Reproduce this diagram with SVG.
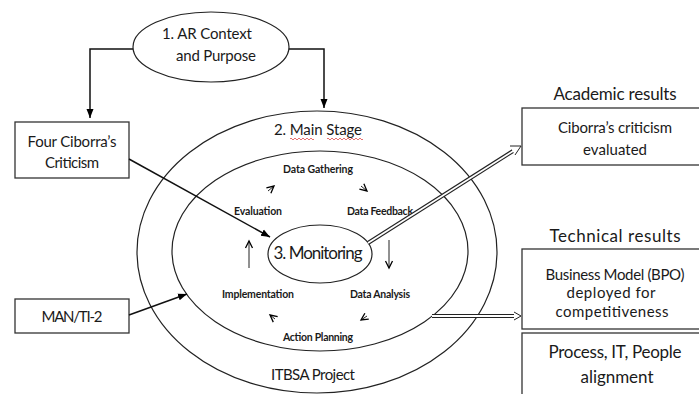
<svg xmlns="http://www.w3.org/2000/svg" width="699" height="394" viewBox="0 0 699 394">
<defs>
<marker id="ah" markerWidth="10" markerHeight="10" refX="8" refY="5" orient="auto" markerUnits="userSpaceOnUse">
<path d="M1,1.5 L8,5 L1,8.5" fill="none" stroke="#000" stroke-width="1.3"/>
</marker>
<marker id="af" markerWidth="10" markerHeight="10" refX="9" refY="5" orient="auto" markerUnits="userSpaceOnUse">
<path d="M0,1.5 L9,5 L0,8.5 Z" fill="#000"/>
</marker>
</defs>
<style>
text{font-family:Lato,"Liberation Sans",sans-serif;fill:#1a1a1a;text-anchor:middle}
.t{font-size:15px}
.h{font-size:17px}
.b{font-size:10.5px;font-weight:bold}
.s{fill:none;stroke:#222;stroke-width:1.2}
.box{fill:#fff;stroke:#333;stroke-width:1.3}
.c{fill:none;stroke:#111;stroke-width:1.5}
.sa{fill:none;stroke:#222;stroke-width:1}
</style>
<rect width="699" height="394" fill="#fff"/>
<g id="itbsa">
<ellipse cx="317" cy="252" rx="180" ry="141" class="s"/>
<text x="313" y="380" class="t" textLength="84">ITBSA Project</text>
</g>
<g id="main-stage">
<ellipse cx="320" cy="251" rx="148" ry="100" class="s"/>
<text x="318" y="135" class="t" textLength="88">2. Main Stage</text>
<path d="M290,139 q1,-2 2,0 q1,2 2,0 q1,-2 2,0 q1,2 2,0 q1,-2 2,0 q1,2 2,0 q1,-2 2,0 q1,2 2,0 q1,-2 2,0 q1,2 2,0 q1,-2 2,0 q1,2 2,0 M327,139 q1,-2 2,0 q1,2 2,0 q1,-2 2,0 q1,2 2,0 q1,-2 2,0 q1,2 2,0 q1,-2 2,0 q1,2 2,0 q1,-2 2,0 q1,2 2,0 q1,-2 2,0 q1,2 2,0 q1,-2 2,0 q1,2 2,0 q1,-2 2,0 q1,2 2,0 q1,-2 2,0 q1,2 2,0" fill="none" stroke="#d33" stroke-width="0.7"/>
</g>
<g id="monitoring">
<ellipse cx="320" cy="254" rx="52" ry="29" class="s"/>
<text x="318" y="259" class="h" textLength="89">3. Monitoring</text>
</g>
<g id="cycle">
<text x="318" y="173" class="b" textLength="70">Data Gathering</text>
<text x="380" y="215" class="b" textLength="66">Data Feedback</text>
<text x="380" y="298" class="b" textLength="60">Data Analysis</text>
<text x="318" y="341" class="b" textLength="70">Action Planning</text>
<text x="258" y="298" class="b" textLength="72">Implementation</text>
<text x="258" y="215" class="b" textLength="48">Evaluation</text>
<line x1="268" y1="191" x2="274" y2="186" class="sa" marker-end="url(#ah)"/>
<line x1="361" y1="186" x2="367" y2="191" class="sa" marker-end="url(#ah)"/>
<line x1="389" y1="240" x2="389" y2="268" class="sa" marker-end="url(#ah)"/>
<line x1="367" y1="316" x2="361" y2="320" class="sa" marker-end="url(#ah)"/>
<line x1="275" y1="319" x2="270" y2="315" class="sa" marker-end="url(#ah)"/>
<line x1="249" y1="268" x2="249" y2="241" class="sa" marker-end="url(#ah)"/>
</g>
<g id="ar-context">
<ellipse cx="211" cy="47" rx="78" ry="35" class="s"/>
<text x="207" y="39" class="t" textLength="90">1.  AR Context</text>
<text x="216" y="61" class="t" textLength="80">and Purpose</text>
</g>
<g id="four-ciborra">
<rect x="15" y="122" width="114" height="56" class="box"/>
<text x="72" y="147" class="t" textLength="89">Four Ciborra’s</text>
<text x="72" y="168" class="t" textLength="54">Criticism</text>
</g>
<g id="man-ti">
<rect x="15" y="299" width="114" height="34" class="box"/>
<text x="72" y="322" class="t" textLength="61">MAN/TI-2</text>
</g>
<g id="academic">
<text x="615" y="100" class="h" textLength="123">Academic results</text>
<rect x="522" y="108" width="180" height="57" class="box"/>
<text x="615" y="133" class="t" textLength="114">Ciborra’s criticism</text>
<text x="615" y="155" class="t" textLength="64">evaluated</text>
</g>
<g id="technical">
<text x="615" y="242" class="h" textLength="131">Technical results</text>
<rect x="522" y="249" width="180" height="80" class="box"/>
<text x="615" y="280" class="t" textLength="139">Business Model (BPO)</text>
<text x="611" y="298" class="t" textLength="89">deployed for</text>
<text x="612" y="317" class="t" textLength="113">competitiveness</text>
</g>
<g id="alignment">
<rect x="522" y="333" width="180" height="70" class="box"/>
<text x="615" y="358" class="h" textLength="133">Process, IT, People</text>
<text x="617" y="383" class="h" textLength="73">alignment</text>
</g>
<g id="connectors">
<polyline points="133,49 90,49 90,118" class="c" marker-end="url(#af)"/>
<polyline points="289,49 324,49 324,108" class="c" marker-end="url(#af)"/>
<line x1="129" y1="159" x2="270" y2="237" class="c" marker-end="url(#af)"/>
<line x1="129" y1="315" x2="187" y2="294" class="c" marker-end="url(#af)"/>
<line x1="368" y1="243" x2="513" y2="151" stroke="#222" stroke-width="4"/>
<line x1="368" y1="243" x2="514" y2="150.5" stroke="#fff" stroke-width="1.8"/>
<path d="M510,146 L521,146 L515,155" fill="#fff" stroke="#222" stroke-width="1"/>
<line x1="432" y1="316" x2="514" y2="316" stroke="#222" stroke-width="4"/>
<line x1="432" y1="316" x2="515" y2="316" stroke="#fff" stroke-width="1.8"/>
<path d="M514,312 L521,316 L514,320" fill="#fff" stroke="#222" stroke-width="1"/>
</g>
</svg>
